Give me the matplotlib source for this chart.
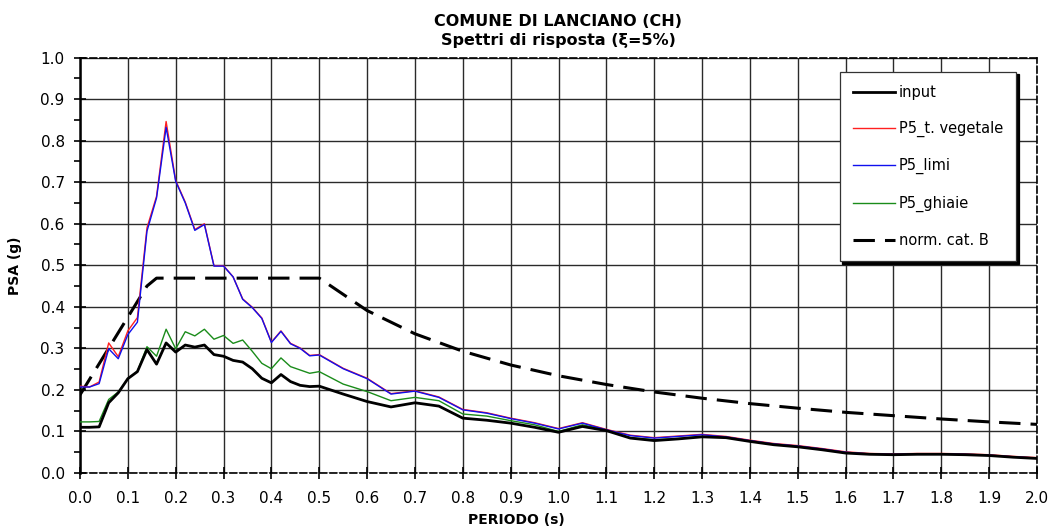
import matplotlib.pyplot as plt
from matplotlib.ticker import MultipleLocator

# periods (s)
periodo = [0.00, 0.02, 0.04, 0.06, 0.08, 0.10, 0.12, 0.14, 0.16, 0.18,
           0.20, 0.22, 0.24, 0.26, 0.28, 0.30, 0.32, 0.34, 0.36, 0.38,
           0.40, 0.42, 0.44, 0.46, 0.48, 0.50, 0.55, 0.60, 0.65, 0.70,
           0.75, 0.80, 0.85, 0.90, 0.95, 1.00, 1.05, 1.10, 1.15, 1.20,
           1.25, 1.30, 1.35, 1.40, 1.45, 1.50, 1.55, 1.60, 1.65, 1.70,
           1.75, 1.80, 1.85, 1.90, 1.95, 2.00]

# spectral accelerations (g)
psa_input = [0.110, 0.110, 0.111, 0.169, 0.193, 0.227, 0.244, 0.297, 0.262, 0.313,
             0.291, 0.308, 0.303, 0.308, 0.285, 0.281, 0.271, 0.267, 0.251, 0.228,
             0.217, 0.237, 0.220, 0.211, 0.208, 0.209, 0.190, 0.172, 0.159, 0.169,
             0.161, 0.132, 0.127, 0.120, 0.110, 0.098, 0.112, 0.102, 0.084, 0.078,
             0.082, 0.087, 0.085, 0.076, 0.068, 0.063, 0.056, 0.048, 0.045, 0.044,
             0.045, 0.045, 0.044, 0.042, 0.038, 0.035]

psa_vegetale = [0.209, 0.207, 0.219, 0.313, 0.280, 0.342, 0.374, 0.590, 0.666, 0.846,
                0.704, 0.652, 0.586, 0.600, 0.499, 0.499, 0.472, 0.419, 0.399, 0.373,
                0.315, 0.342, 0.312, 0.301, 0.283, 0.285, 0.252, 0.228, 0.191, 0.198,
                0.183, 0.153, 0.145, 0.132, 0.121, 0.107, 0.121, 0.105, 0.091, 0.085,
                0.089, 0.093, 0.088, 0.079, 0.071, 0.066, 0.059, 0.051, 0.047, 0.046,
                0.047, 0.047, 0.046, 0.044, 0.040, 0.037]

psa_limi = [0.207, 0.207, 0.215, 0.299, 0.275, 0.333, 0.363, 0.582, 0.662, 0.832,
            0.702, 0.650, 0.584, 0.598, 0.498, 0.498, 0.472, 0.418, 0.398, 0.372,
            0.314, 0.341, 0.311, 0.300, 0.282, 0.284, 0.251, 0.227, 0.190, 0.197,
            0.182, 0.152, 0.144, 0.131, 0.120, 0.106, 0.120, 0.104, 0.090, 0.084,
            0.088, 0.092, 0.087, 0.078, 0.070, 0.065, 0.058, 0.050, 0.046, 0.045,
            0.046, 0.046, 0.045, 0.043, 0.039, 0.036]

psa_ghiaie = [0.123, 0.123, 0.124, 0.177, 0.195, 0.227, 0.245, 0.304, 0.281, 0.346,
              0.299, 0.340, 0.330, 0.346, 0.322, 0.331, 0.312, 0.320, 0.293, 0.264,
              0.251, 0.277, 0.256, 0.248, 0.240, 0.244, 0.214, 0.196, 0.174, 0.182,
              0.174, 0.142, 0.137, 0.126, 0.116, 0.100, 0.116, 0.104, 0.085, 0.080,
              0.083, 0.088, 0.086, 0.077, 0.069, 0.064, 0.057, 0.049, 0.046, 0.045,
              0.046, 0.046, 0.045, 0.043, 0.039, 0.036]

# code spectrum, soil category B
periodo_norm = [0.00, 0.14, 0.16, 0.50, 0.60, 0.70, 0.80, 0.90, 1.00, 1.10,
                1.20, 1.30, 1.40, 1.50, 1.60, 1.70, 1.80, 1.90, 2.00]
psa_norm = [0.188, 0.450, 0.469, 0.469, 0.391, 0.335, 0.293, 0.260, 0.234, 0.213,
            0.195, 0.180, 0.167, 0.156, 0.146, 0.138, 0.130, 0.123, 0.117]

fig = plt.figure(figsize=(10.51, 5.32), dpi=100)
ax = fig.add_axes([0.0761, 0.1109, 0.9106, 0.7810])

ax.plot(periodo_norm, psa_norm, color="black", lw=2.2, dashes=(7, 3.3),
        label="norm. cat. B", zorder=3)
ax.plot(periodo, psa_ghiaie, color="#1a8c1a", lw=1.0, label="P5_ghiaie", zorder=4)
ax.plot(periodo, psa_vegetale, color="#ff2020", lw=1.0, label="P5_t. vegetale", zorder=5)
ax.plot(periodo, psa_limi, color="#1010ee", lw=1.0, label="P5_limi", zorder=6)
ax.plot(periodo, psa_input, color="black", lw=2.0, label="input", zorder=7)

ax.set_xlim(0, 2.0)
ax.set_ylim(0, 1.0)
ax.xaxis.set_major_locator(MultipleLocator(0.1))
ax.yaxis.set_major_locator(MultipleLocator(0.1))
ax.yaxis.set_minor_locator(MultipleLocator(0.05))
ax.xaxis.set_major_formatter(lambda v, p: f"{v:.1f}")
ax.yaxis.set_major_formatter(lambda v, p: f"{v:.1f}")
ax.grid(True, which="major", color="#2a2a2a", lw=1.0)
ax.set_axisbelow(True)

ax.tick_params(axis="both", which="major", direction="inout", length=8,
               width=1.2, labelsize=11, color="black")
ax.tick_params(axis="x", pad=9)
ax.tick_params(axis="y", pad=7)
ax.tick_params(axis="y", which="minor", direction="out", length=4, width=1.2)

for side in ["top", "right", "bottom"]:
    ax.spines[side].set_linestyle((0, (4, 2)))
    ax.spines[side].set_linewidth(1.2)
ax.spines["left"].set_linewidth(1.8)

# legend order as in the sheet
h, l = ax.get_legend_handles_labels()
order = ["input", "P5_t. vegetale", "P5_limi", "P5_ghiaie", "norm. cat. B"]
hs = [h[l.index(name)] for name in order]
leg = ax.legend(hs, order, loc="upper right", bbox_to_anchor=(0.978, 0.966),
                fontsize=10.5, frameon=True, fancybox=False, framealpha=1,
                edgecolor="#333333", handlelength=2.9, handletextpad=0.25,
                labelspacing=1.45, borderpad=0.9, borderaxespad=0,
                shadow={"color": "black", "alpha": 1})
leg.get_frame().set_linewidth(0.9)

fig.text(0.5313, 0.959, "COMUNE DI LANCIANO (CH)", ha="center", va="center",
         fontsize=11.5, fontweight="bold")
fig.text(0.5313, 0.923, "Spettri di risposta (\u03be=5%)", ha="center", va="center",
         fontsize=11.5, fontweight="bold")
fig.text(0.491, 0.023, "PERIODO (s)", ha="center", va="center",
         fontsize=10, fontweight="bold")
fig.text(0.014, 0.5, "PSA (g)", ha="center", va="center", rotation=90,
         fontsize=10, fontweight="bold")

fig.savefig("out.png", dpi=100)
